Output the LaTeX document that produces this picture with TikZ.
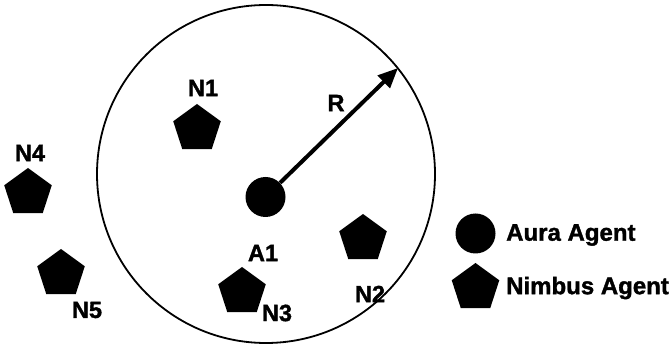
\documentclass[tikz,border=0pt]{standalone}
\usepackage{fontspec}
\setmainfont[BoldFeatures={FakeBold=1.5}]{Liberation Sans}
\usetikzlibrary{shapes.geometric,arrows.meta}
\begin{document}
\begin{tikzpicture}[x=1pt,y=-1pt,
  nimbus/.style={regular polygon, regular polygon sides=5, fill=black, minimum size=50pt, inner sep=0pt},
  aura/.style={circle, fill=black, minimum size=40pt, inner sep=0pt},
  lbl/.style={font=\fontsize{23.5}{23.5}\selectfont\bfseries, inner sep=0pt},
  legtxt/.style={font=\fontsize{24}{24}\selectfont\bfseries, inner sep=0pt, anchor=west}]
\useasboundingbox (0,0) rectangle (671,344);
\node[circle, draw, line width=1.8pt, minimum size=338pt, inner sep=0pt] (range) at (266,174) {};
\node[aura] (A1) at (265.5,197) {};
\coordinate (tip) at (398,68);
\draw[line width=4pt, -{Triangle[length=20pt,width=17pt]}] (A1) -- (tip);
\node[lbl] (R) at (336,103) {R};
\node[lbl] (A1l) at (263,253) {A1};
\node[nimbus] (N1) at (197,129) {};
\node[lbl] (N1l) at (203,88) {N1};
\node[nimbus] (N2) at (363,239) {};
\node[lbl] (N2l) at (370,294) {N2};
\node[nimbus] (N3) at (242,292) {};
\node[lbl] (N3l) at (277,313) {N3};
\node[nimbus] (N4) at (28,193) {};
\node[lbl] (N4l) at (30,153) {N4};
\node[nimbus] (N5) at (61,274) {};
\node[lbl] (N5l) at (87,310) {N5};
\node[aura] (legA) at (475.5,233.5) {};
\node[legtxt] (legAt) at (506,235) {Aura Agent};
\node[nimbus] (legN) at (475.5,288) {};
\node[legtxt] (legNt) at (506,288) {Nimbus Agent};
\end{tikzpicture}
\end{document}
